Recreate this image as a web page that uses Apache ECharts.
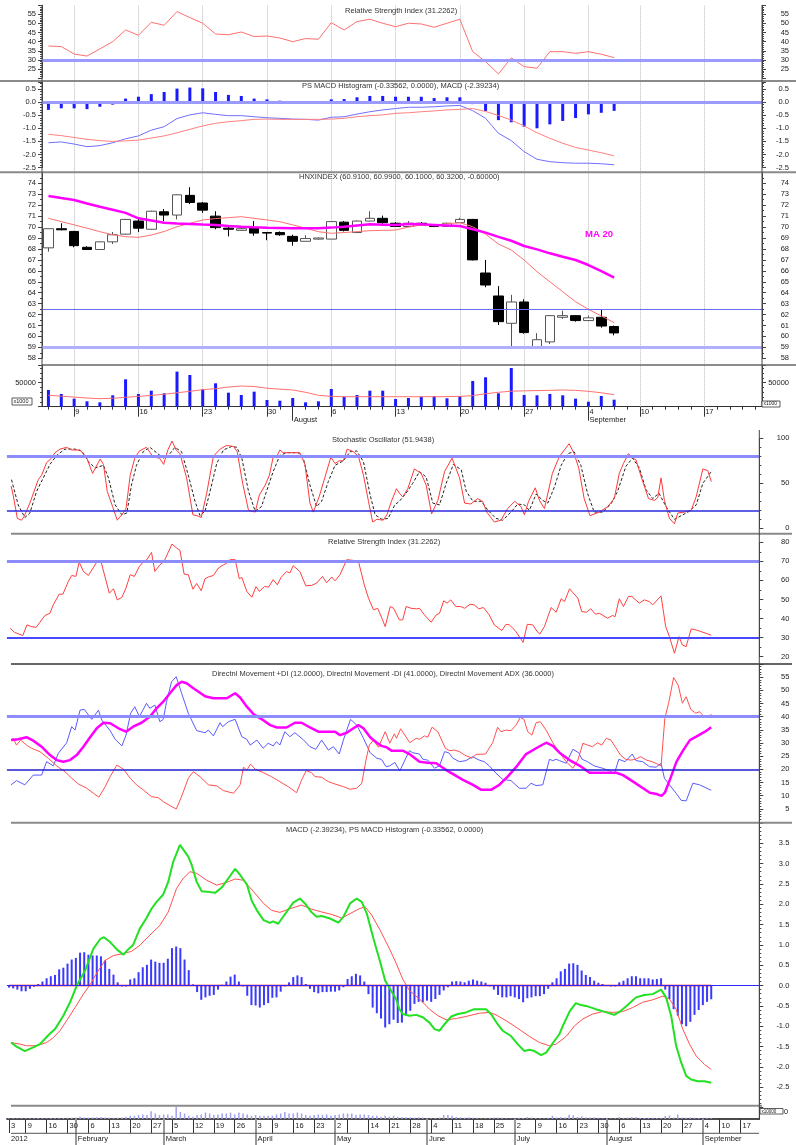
<!DOCTYPE html>
<html><head><meta charset="utf-8">
<script src="https://cdn.jsdelivr.net/npm/echarts@6.0.0/dist/echarts.min.js"></script>
<style>html,body{margin:0;padding:0;background:#fff}#c{width:796px;height:1145px}</style>
</head><body><div id="c"></div>
<script>
// ---------- categories ----------
const HOLIDAYS = ['2012-01-23','2012-01-24','2012-01-25','2012-01-26','2012-01-27','2012-04-02','2012-04-30','2012-05-01','2012-09-03'];
function tradingDays(start, end) {
  const out = []; const d = new Date(start + 'T00:00:00Z'); const e = new Date(end + 'T00:00:00Z');
  while (d <= e) {
    const dow = d.getUTCDay(); const s = d.toISOString().slice(0, 10);
    if (dow !== 0 && dow !== 6 && HOLIDAYS.indexOf(s) < 0) out.push(s);
    d.setUTCDate(d.getUTCDate() + 1);
  }
  return out;
}
const botDates = tradingDays('2012-01-03', '2012-09-21');
const topDates = tradingDays('2012-07-05', '2012-09-21');
const MONTHS = ['January','February','March','April','May','June','July','August','September','October','November','December'];
const HIDDEN_DAY_LABELS = ['2012-05-07'];

// ---------- top chart (daily, Jul 5 - Sep 6) ----------
const topOpen  = [68.1,69.85,69.6,68.15,67.95,68.65,69.35,70.55,69.8,71.4,71.1,72.9,72.2,71.0,69.9,69.7,69.95,69.5,69.5,69.15,68.7,68.9,68.9,70.45,69.5,70.55,70.8,70.35,70.05,70.35,70.2,70.05,70.4,70.7,65.8,63.7,61.2,63.15,59.0,59.5,61.75,61.9,61.45,61.75,60.91];
const topClose = [69.85,69.75,68.3,67.95,68.65,69.3,70.7,69.9,71.45,71.1,72.95,72.25,71.55,69.95,69.8,69.85,69.45,69.45,69.3,68.7,68.95,69.0,70.5,69.7,70.55,70.8,70.4,70.05,70.35,70.2,70.05,70.35,70.7,67.0,64.7,61.35,63.15,60.35,59.7,61.9,61.9,61.45,61.7,60.95,60.32];
const topHigh  = [69.85,70.35,69.65,68.25,68.7,69.55,70.75,70.9,71.5,71.65,73.0,73.65,72.3,71.45,70.05,69.95,70.55,69.55,69.6,69.3,69.25,69.05,70.5,70.55,70.6,71.45,71.05,70.45,70.55,70.45,70.25,70.4,70.85,70.75,67.0,64.6,63.8,63.4,60.3,61.95,62.35,61.95,61.9,62.5,60.99];
const topLow   = [67.75,69.7,68.15,67.9,67.9,68.45,69.3,69.55,69.75,70.55,70.7,72.1,71.3,69.8,69.15,69.65,69.2,68.8,69.2,68.3,68.7,68.85,68.9,69.6,69.45,70.5,70.3,70.0,70.0,70.15,70.0,70.0,70.4,66.95,64.5,61.05,58.9,60.25,58.9,59.3,61.6,61.35,61.4,60.8,60.10];
const topMA20  = [72.84,72.65,72.47,72.15,71.86,71.58,71.3,70.8,70.6,70.4,70.33,70.28,70.23,70.19,70.1,70.03,69.98,69.94,69.92,69.9,69.89,69.89,69.95,70.03,70.15,70.25,70.22,70.19,70.28,70.25,70.2,70.15,70.1,69.8,69.49,69.1,68.75,68.27,67.96,67.6,67.29,66.99,66.53,65.98,65.37];
const topMA10  = [70.8,70.5,70.2,69.9,69.58,69.3,69.12,69.06,69.27,69.6,70.03,70.34,70.65,70.78,70.86,70.95,70.8,70.65,70.49,70.2,69.89,69.58,69.43,69.5,69.58,69.67,69.7,69.73,70.0,70.19,70.19,70.3,70.4,70.03,69.36,68.45,67.9,66.99,65.92,65.0,64.09,63.17,62.48,61.87,61.26];
const topVol   = [34800,26500,16700,11200,9100,23700,57000,26500,33300,27900,73000,66000,36200,48700,29200,24400,31300,14000,12500,18100,9100,11200,36900,20800,24400,33300,33300,16000,18100,20800,22300,17500,22300,53500,61200,27900,80600,24400,23700,26500,23700,16700,10400,22300,14600];
const topVolMA = [23700,22000,20000,18000,16700,17500,19500,21500,23500,26000,29000,32000,35500,37500,41000,43000,42000,38500,36500,34800,30000,23700,21500,20800,20800,20800,20800,20800,20800,20800,20800,21000,21500,23000,27000,30000,32300,33000,33500,34000,34800,34000,32000,29000,25000];
const topRSI   = [37.6,37.3,33.2,32.1,36.0,40.0,46.4,43.5,50.6,49.0,56.5,53.2,50.1,44.2,43.8,45.3,42.8,43.1,42.0,40.0,41.7,41.3,50.4,46.4,51.0,52.3,50.1,48.2,50.1,49.7,47.9,50.1,52.3,34.5,29.0,22.3,31.1,26.3,25.4,34.5,34.5,33.6,34.5,33.1,31.23];
const topMACD  = [-1.55,-1.52,-1.6,-1.70,-1.66,-1.55,-1.40,-1.29,-1.07,-0.94,-0.63,-0.49,-0.41,-0.47,-0.52,-0.52,-0.56,-0.6,-0.62,-0.65,-0.66,-0.69,-0.58,-0.56,-0.46,-0.37,-0.30,-0.25,-0.2,-0.2,-0.18,-0.15,-0.13,-0.33,-0.62,-1.19,-1.47,-1.89,-2.18,-2.27,-2.31,-2.33,-2.33,-2.35,-2.39];
const topSignal= [-1.23,-1.28,-1.35,-1.42,-1.47,-1.5,-1.48,-1.45,-1.37,-1.29,-1.17,-1.04,-0.91,-0.81,-0.75,-0.71,-0.66,-0.65,-0.66,-0.66,-0.66,-0.66,-0.65,-0.62,-0.56,-0.52,-0.49,-0.43,-0.41,-0.37,-0.34,-0.30,-0.28,-0.25,-0.36,-0.51,-0.69,-0.91,-1.17,-1.38,-1.57,-1.73,-1.83,-1.93,-2.05];
const topHist  = [-0.30,-0.24,-0.24,-0.27,-0.18,-0.10,0.13,0.20,0.30,0.38,0.51,0.55,0.52,0.38,0.27,0.23,0.13,0.10,0.05,0.01,0.01,0.01,0.10,0.11,0.18,0.23,0.23,0.20,0.20,0.20,0.15,0.18,0.18,-0.08,-0.34,-0.69,-0.77,-0.94,-1.0,-0.85,-0.72,-0.61,-0.47,-0.41,-0.336];

// ---------- bottom chart (trading-day index from Jan 3) ----------
const stochK = [[0.5,47],[1,37],[2,11],[3,9],[3.6,13],[5,28],[7,54],[7.8,59],[9,73],[10.2,78],[11,84],[12.2,88],[13.8,90],[15,87],[17,87],[18.6,78],[20,61],[21.8,77],[22.6,71],[23.5,41],[24.8,24],[25.9,9],[27,15],[28,22],[29,59],[30.1,78],[31.2,86],[32.9,90],[34.5,79],[36,78],[37,71],[38,87],[39,97],[40,87],[40.9,83],[42.5,56],[44,15],[45,14],[46,12],[47.3,39],[48.9,80],[50.5,88],[52,92],[53.7,91],[54.6,85],[55.9,50],[57.3,20],[58.9,18],[59.9,37],[61.3,48],[62.3,59],[63.2,79],[64,79],[64.8,87],[65.6,84],[67.2,84],[69.6,84],[70.8,71],[72,28],[72.8,18],[74.2,35],[75.6,57],[77,79],[78,72],[79,75],[80,75],[80.9,88],[82.4,85],[83.6,80],[84.8,59],[86,30],[87,7],[88,10],[89.5,9],[90.4,15],[91.5,30],[92.7,44],[93.4,39],[94.2,35],[95.4,44],[97,66],[98.6,61],[99.8,48],[101.1,16],[102.6,31],[104.2,63],[106,78],[107.8,56],[109,28],[110.5,27],[112.1,33],[113.3,30],[114.3,18],[116.1,7],[117.7,9],[119.3,22],[121,30],[122.5,24],[123.3,15],[124.3,30],[125.9,45],[126.9,31],[128.1,22],[130,61],[131.7,80],[134,94],[135.2,83],[136.3,67],[137.6,33],[139,14],[141.2,18],[143.2,24],[144.8,33],[146,61],[147,72],[148.2,83],[149.2,78],[150,76],[151.4,55],[153,33],[154.4,31],[155.2,34],[156,56],[156.8,31],[158,11],[159.2,5],[160,17],[161.6,18],[163.2,20],[164.4,35],[166,66],[167.2,64],[168,51.94]];
const stochD = [[0.6,54],[2.2,26],[3.8,12],[5,17],[6.6,41],[8.2,56],[9.8,71],[11.4,81],[13.4,88],[15.8,88],[17.4,86],[19,74],[20.6,67],[22.6,70],[23.8,56],[25.4,26],[27,15],[28.2,17],[29.3,48],[30.5,70],[32.1,85],[33.7,90],[35.3,84],[36.9,78],[38,80],[39.7,90],[41.3,85],[42.9,59],[44.5,30],[45.7,14],[46.9,19],[48.1,41],[49.7,72],[51.3,87],[53.3,91],[54.5,90],[55.7,78],[57.3,41],[58.9,19],[60.4,24],[61.6,41],[63.2,63],[64.8,81],[66.4,84],[69.2,84],[70.4,78],[72,48],[73.6,24],[74.8,30],[76.4,52],[78,70],[80,75],[81.6,85],[83.2,86],[84.8,74],[86.4,37],[87.6,15],[89.2,10],[90.7,11],[92.3,26],[93.4,30],[95,39],[96.6,50],[98.2,63],[99.8,57],[101.4,28],[103,26],[104.6,50],[106.3,71],[108.2,65],[109.4,41],[111,30],[113,30],[114.6,20],[116.5,11],[118.1,9],[120.1,18],[121.7,27],[123.3,26],[124.5,20],[126.1,38],[127.7,31],[128.9,28],[130.5,46],[132.1,70],[133.7,83],[135.2,85],[136.8,70],[138.4,39],[140,18],[142,18],[144,27],[145.6,41],[147.6,69],[149.2,78],[150.8,67],[152.4,43],[154,33],[155.5,39],[157.2,24],[159.2,10],[161.2,15],[162.8,19],[164.4,26],[166,50],[168,63]];
const rsi = [[0.3,34.9],[1.3,32.8],[3.3,31.1],[4.3,36.7],[5.3,35.8],[6.5,35.4],[8.6,41.6],[9.8,42.8],[10.6,47.2],[12,52.8],[12.9,52.8],[14.2,59.5],[15,62.6],[16,62.1],[16.8,69.6],[17.8,64.7],[19,62.6],[21.1,70],[22,70],[24,53.3],[25,55.6],[25.9,49.8],[27,51.1],[28,56],[29,63],[30,62.1],[31.2,67.4],[32.3,70],[33,70.9],[34.1,74.7],[34.9,64.7],[36.1,68.2],[37.1,70],[39,79.1],[40.1,77],[40.9,75.8],[41.9,63.3],[42.9,63],[44,55.4],[44.9,58.4],[46,54.6],[46.9,60.9],[47.7,61.8],[48.9,62.6],[50.1,66.5],[51.3,68.2],[52.1,69.1],[52.9,70.9],[54.1,70.9],[55.1,60.9],[55.7,61.6],[56.9,54.2],[58.1,51.2],[59.1,56.8],[59.9,54.2],[61.1,56.8],[62.1,56.5],[63.2,60.4],[64.2,57.7],[65.1,61.6],[66.4,64.7],[67.2,63.9],[68,67.7],[69.6,64.7],[71,57.2],[72.4,57.4],[73.6,58.6],[75,62.1],[76,58.8],[77.2,61.8],[78,59.8],[79.2,63],[80.8,70.9],[82.8,70.4],[83.6,70],[85,57.7],[86,50.7],[87.2,44.6],[88.2,45.4],[89.2,40.2],[90,35.8],[91.2,46.3],[92,45.4],[93.4,39.3],[94.2,39.3],[95,46.3],[96.2,45.4],[97.5,45.1],[98.2,45.4],[99.4,41.9],[101,38.1],[102.2,41.9],[103,42.8],[104,49.3],[104.8,48.1],[105.7,49.8],[106.9,46.3],[108.1,46.3],[109,45.4],[110.3,47.5],[111.3,47.2],[112.4,45.1],[113.5,45.8],[114.9,41.9],[116.1,36.7],[117.9,33.7],[118.9,37],[119.7,36.7],[121.1,33.7],[123,27.5],[124,37],[125.3,36.7],[126.5,32.8],[127,31.9],[128.1,35.8],[129.7,45.8],[130.9,43.3],[132.1,50.4],[132.9,48.9],[134.1,55.6],[136.1,50.7],[137,43.7],[138.1,43.3],[139.2,45.1],[140.3,42.3],[141.2,42.8],[143.2,40.2],[144.4,41.6],[145,41],[146,50.4],[147,46.3],[148.2,51.6],[149,51.6],[150.8,48.1],[152,49.8],[153.2,48.9],[154,47.2],[156,51.9],[157.1,35.8],[158,30.5],[159.2,21.8],[160.3,30.5],[161.1,26.1],[162,25.3],[163.2,34.6],[164.4,34],[165.5,33.2],[166.7,32.3],[168,31.23]];
const plusDI = [[0.5,14.1],[1.8,15.7],[3.8,14.1],[5.8,17.8],[7.8,17.8],[9,22.9],[10.6,21.3],[11.8,26.1],[13.8,30.1],[15,36.2],[15.8,34.9],[17,42.5],[18,42.8],[19.8,39],[21.4,42.5],[22.2,38.7],[24.2,34.7],[25.4,31.4],[27,28.9],[28,33],[29.1,41.3],[30.1,43.8],[31.2,40],[32.9,45.1],[33.7,43.2],[34.9,44.4],[36.1,38.1],[36.9,39],[37.7,45.7],[38.9,53.3],[40,55.2],[41.3,48.9],[42.9,41.3],[44.9,34.7],[46.9,33.9],[47.7,34.9],[48.9,32.7],[50.5,37.7],[51.1,36.2],[52.5,38.1],[54.1,39],[55.7,32.4],[56.9,31.4],[57.7,29.2],[59.3,31.1],[60.8,28],[62,29.9],[63.2,28.9],[64,30.5],[64.8,29.2],[66,34.3],[67.2,32.4],[68.4,33.9],[70.3,31.4],[72,28.6],[73.4,27.6],[74.8,31.1],[76.4,27.3],[77.6,28.6],[79,25.8],[80,31.1],[81.7,39],[83.2,36.8],[84.8,31.8],[86.4,26.3],[88,24.2],[89.1,23.8],[90.2,21],[91.1,21.3],[92.3,22.6],[93.5,19.4],[95.8,27.1],[96.6,26.3],[98.2,25.8],[99,23.8],[100.2,23.5],[101.8,20.4],[103,21.3],[104.2,26.7],[105.2,26.3],[106.2,24.2],[107.8,22.9],[109.3,23.3],[110.9,24.8],[112.5,23.5],[113.7,22.9],[114.9,21.3],[116.5,18.5],[118.1,16.2],[120.1,15.7],[122.1,12.8],[123.7,12.8],[124.9,14.7],[126.1,13.8],[127.7,14.1],[129.3,23.8],[130.1,23.3],[130.9,23.8],[131.7,23.3],[133.3,22.3],[134.9,27.6],[136.3,26.3],[137.1,23.8],[138.4,22.9],[140,21.3],[142,20.4],[143.6,19.5],[144.8,18.2],[145.9,23.8],[147.4,22.9],[149.1,25.8],[150,23.3],[151.6,22.9],[153.2,21],[154.8,20.8],[156,22.3],[156.8,16.6],[158,14.1],[159.6,10.9],[160.8,8.2],[162,8],[163.6,14.7],[165.2,14.1],[168,12]];
const minusDI = [[0.5,31.1],[1,31.8],[1.8,29.2],[2.8,31.1],[4.2,29.2],[5.4,28],[7.4,26.7],[9.4,24.2],[11.4,21.3],[13.4,19.1],[15,16.6],[16.6,14.4],[18.6,12.8],[20.2,10.9],[21.5,9.4],[23,13.4],[24.2,17.2],[25.8,21.6],[27.4,20],[29,16.6],[30.5,14.1],[32.1,12.2],[34.1,9.6],[35.7,9.2],[36.9,7.7],[38.5,6.2],[40,4.9],[41.2,9.3],[42.9,16.6],[44.1,19.1],[45.7,17.2],[47.7,14.1],[49.7,13.7],[51.3,11.9],[53.7,10.9],[55.3,14.1],[56.1,20.8],[56.9,19.7],[57.8,22],[58.9,20],[60.9,18.7],[62.8,17.2],[64.8,15.3],[66.8,13.4],[68.8,11.1],[70,15.9],[71.1,19.5],[72.4,18.7],[73.2,17.2],[74.8,17],[76.4,15.3],[78,14.4],[80,13.4],[81.6,12.4],[83.2,12.8],[84.4,14.7],[85.4,23.5],[86.2,29.2],[87.2,31.1],[88.4,28.4],[90,34.3],[91.1,29.9],[92.2,33.5],[92.7,31.8],[93.7,35.4],[95.9,30.1],[97.4,31.8],[98.2,31.4],[99.4,32.7],[100.2,32.2],[101.2,36],[102.6,34.3],[104.4,28],[105.4,27.1],[106.6,27.3],[107.8,26.7],[109,25.4],[110.8,24.2],[111.7,25.7],[112.9,25.7],[114,25.8],[115.7,30.1],[116.9,36],[117.7,34.3],[118.9,34.9],[120.1,34.7],[121.3,36.8],[122.3,39.7],[123.2,39],[124.1,34.3],[125.1,33],[126.1,37.7],[127.1,38.1],[128.5,34.9],[130.1,30.1],[131.7,26.3],[133.3,22.9],[134.9,20.4],[136.1,23.5],[137.3,29.9],[138.4,29.2],[139.6,28.6],[140.8,30.1],[141.8,29.2],[142.9,31.8],[144,31.1],[145.1,28.4],[146.3,25.4],[147.5,23.8],[148.7,23.5],[149.9,23.8],[151.1,24.8],[152.5,23.5],[153.9,22.9],[155.1,22],[156,21.3],[156.9,39.4],[157.8,45.1],[159,54.9],[160.1,52],[161.1,45.1],[162,47.6],[163.1,42.8],[164.3,41.3],[165.2,41.9],[166.3,40],[167.4,39.7],[168,41]];
const adx = [[0.5,31.1],[2.2,31.4],[4.2,32.2],[5.8,30.9],[7.8,28.6],[9.8,25.4],[11.4,23.5],[13,22.9],[14.6,23.5],[16.2,25.4],[17.8,28.6],[19.4,32.2],[21,35.6],[22.6,37.7],[24.2,37.5],[26.2,35.6],[28,34.3],[29.7,36.2],[31.7,37.7],[33.7,40],[35.3,43.2],[36.9,45.7],[38.5,48.9],[40.1,52],[41.3,53.3],[42.5,52.7],[44.1,50.8],[45.7,49.1],[46.9,47.8],[48.9,47],[52.1,47],[54.1,48.9],[55.3,47.3],[56.9,43.8],[58.5,41],[60.5,39],[62.5,36.8],[64.1,35.9],[66.4,35.9],[68.4,37.7],[70,37.7],[72,35.9],[74,34.3],[78,34.3],[79.2,33],[80.8,33.9],[82.4,35.6],[83.6,36.8],[84.8,35.6],[86.4,32.2],[88,30.1],[89.1,28.9],[90.3,28.4],[91.5,27.1],[94.2,27.1],[95.8,25.8],[98.2,22.9],[100.2,22.5],[102.2,22.3],[104.6,19.7],[108.6,16],[111,14.1],[113,12.2],[115.3,12.2],[117.3,14.1],[119.3,17.2],[121.3,20.8],[123.7,25.8],[126.1,28],[128.5,30.1],[130.1,28.9],[131.7,26.3],[134.1,23.5],[136.9,21],[138.9,18.7],[145.3,18.7],[146.9,17.8],[149.3,15.3],[151.7,12.8],[153.3,11.1],[154.9,10.6],[156.1,9.9],[156.9,11.1],[158.1,16],[159.7,22.9],[161.3,27.3],[162.9,31.1],[164.4,32.4],[166.5,34.3],[168,36]];
const macdLine = [[0.5,-1.40],[1.8,-1.50],[3.8,-1.61],[5.8,-1.52],[7.4,-1.44],[9.4,-1.22],[11,-1.07],[13,-0.74],[14.6,-0.41],[16.2,0],[18.2,0.37],[20.2,0.91],[21.8,1.14],[22.7,1.19],[24.2,1.07],[25.8,0.89],[27.4,0.76],[28.5,0.89],[29.7,1.0],[31.3,1.4],[32.9,1.66],[34.1,1.89],[35.3,2.06],[36.9,2.24],[38.1,2.55],[39.3,3.05],[40.9,3.46],[42.9,3.17],[43.7,2.97],[44.9,2.55],[46.1,2.32],[47.3,2.31],[49.3,2.28],[50.9,2.41],[52.5,2.64],[54.1,2.87],[55.3,2.72],[56.9,2.49],[58.1,2.08],[59.3,1.85],[60.9,1.61],[62.4,1.54],[63.2,1.58],[64.4,1.52],[66.4,1.81],[68,2.04],[69.6,2.14],[70.8,2.02],[72.4,1.80],[73.6,1.69],[74.8,1.71],[76.8,1.65],[78.8,1.55],[80,1.69],[81.6,2.02],[83.2,2.14],[84.4,2.06],[85.6,1.77],[87.2,1.15],[88.8,0.58],[90,0.12],[91.6,-0.16],[92.6,-0.33],[93.4,-0.58],[94.2,-0.70],[95.8,-0.74],[97.4,-0.72],[99,-0.78],[100.6,-0.91],[101.8,-1.07],[103,-1.11],[104.2,-0.95],[105.8,-0.76],[107.4,-0.70],[109.3,-0.66],[111.3,-0.58],[114.1,-0.58],[115.3,-0.70],[116.9,-0.95],[118.1,-1.11],[120.1,-1.24],[121.7,-1.44],[123.3,-1.61],[124.5,-1.58],[125.7,-1.61],[127.3,-1.71],[128.5,-1.65],[129.4,-1.52],[130.2,-1.40],[131.7,-1.19],[132.5,-0.99],[134.1,-0.64],[135.6,-0.43],[136.8,-0.48],[138.4,-0.51],[140.4,-0.58],[142.4,-0.64],[144.8,-0.72],[146.4,-0.62],[148,-0.48],[150,-0.29],[152,-0.23],[154,-0.21],[156,-0.10],[157.2,-0.29],[158.4,-0.74],[159.6,-1.48],[160.8,-1.89],[162,-2.22],[163.2,-2.31],[164.8,-2.35],[166.4,-2.35],[168,-2.39]];
const macdSignal = [[0.5,-1.40],[2.6,-1.44],[4.2,-1.48],[6.6,-1.48],[9,-1.40],[10.6,-1.28],[12.2,-1.11],[13.8,-0.86],[15.8,-0.54],[17.8,-0.21],[19.4,0.02],[21,0.31],[23,0.62],[25,0.74],[27,0.78],[29.3,0.84],[31.3,0.99],[33.7,1.24],[36.1,1.48],[38.1,1.81],[40.1,2.39],[41.7,2.64],[43.3,2.80],[44.9,2.76],[47.3,2.59],[49.7,2.47],[52.1,2.54],[54.1,2.62],[56.1,2.59],[58.5,2.31],[60.9,2.02],[62.8,1.85],[64.8,1.80],[67.2,1.89],[70,1.98],[72.4,1.88],[74.8,1.81],[77.2,1.75],[79.6,1.66],[81.6,1.77],[83.6,1.88],[85.2,1.94],[86.8,1.73],[88.8,1.36],[90.8,0.95],[92.5,0.58],[94.2,0.16],[95.8,-0.12],[98.2,-0.33],[100.6,-0.58],[102.6,-0.74],[104.6,-0.84],[107,-0.81],[109.3,-0.76],[112.5,-0.68],[114.9,-0.66],[116.5,-0.72],[118.9,-0.86],[121.7,-1.05],[124.5,-1.25],[126.9,-1.40],[129.3,-1.48],[130.9,-1.44],[133.3,-1.25],[135.3,-0.99],[137.3,-0.82],[139.6,-0.70],[142,-0.64],[144.4,-0.66],[146.8,-0.64],[149.2,-0.54],[151.6,-0.41],[154,-0.35],[156.4,-0.26],[158,-0.33],[159.6,-0.58],[161.2,-1.07],[162.8,-1.44],[164.4,-1.73],[166.4,-1.94],[168,-2.06]];
const macdHist = [-0.05,-0.07,-0.10,-0.14,-0.14,-0.08,-0.03,0.04,0.10,0.18,
 0.23,0.26,0.40,0.44,0.54,0.64,0.68,0.81,0.82,0.76,
 0.74,0.74,0.72,0.62,0.41,0.27,0.08,-0.02,-0.02,0.15,
 0.18,0.33,0.45,0.51,0.64,0.59,0.56,0.56,0.66,0.92,
 0.96,0.92,0.64,0.38,0.03,-0.16,-0.35,-0.29,-0.25,-0.23,
 -0.10,0.02,0.10,0.22,0.27,0.10,-0.02,-0.25,-0.48,-0.49,
 -0.54,-0.48,-0.43,-0.30,-0.29,-0.15,-0.02,0.08,0.21,0.25,
 0.21,0.04,-0.08,-0.16,-0.19,-0.16,-0.16,-0.15,-0.15,-0.12,
 -0.04,0.16,0.23,0.29,0.25,0.10,-0.21,-0.54,-0.68,-0.81,
 -1.03,-0.95,-0.84,-0.92,-0.91,-0.74,-0.62,-0.45,-0.40,-0.41,
 -0.37,-0.40,-0.33,-0.23,-0.12,-0.04,0.10,0.11,0.10,0.08,
 0.12,0.15,0.12,0.10,0.07,-0.02,-0.10,-0.23,-0.29,-0.29,
 -0.26,-0.29,-0.33,-0.41,-0.31,-0.29,-0.26,-0.26,-0.21,-0.08,
 0.08,0.18,0.35,0.41,0.54,0.55,0.51,0.37,0.26,0.21,
 0.12,0.07,0.04,0.01,-0.02,-0.02,0.08,0.12,0.18,0.23,
 0.23,0.18,0.18,0.18,0.15,0.16,0.18,-0.10,-0.33,-0.58,
 -0.74,-0.95,-1.00,-0.89,-0.72,-0.60,-0.48,-0.40,-0.336];
const histZero = 0;
const volEarly = [15000,14000,12000,13000,15000,14000,13000,16000,15000,14000,
 18000,17000,20000,19000,23000,23000,25000,40000,25000,23000,
 30000,30000,35000,28000,23000,23000,23000,28000,40000,57000,
 57000,69000,80000,69000,137000,97000,69000,80000,80000,57000,
 211000,126000,97000,57000,40000,69000,80000,114000,97000,69000,
 80000,97000,97000,114000,80000,114000,97000,80000,57000,69000,
 57000,57000,57000,57000,80000,97000,126000,97000,97000,114000,
 97000,69000,57000,69000,80000,69000,80000,57000,69000,80000,
 97000,97000,97000,69000,80000,80000,69000,57000,57000,40000,
 57000,40000,57000,35000,35000,30000,30000,25000,30000,25000,
 15000,15000,20000,25000,69000,69000,57000,35000,30000,23000,
 30000,23000,23000,12000,12000,20000,28000,25000,23000,12000,
 10000,14000,20000,17000];
const botVol = volEarly.concat(topVol);

// ---------- helpers ----------
function weekKey(s){ const d = new Date(s + 'T00:00:00Z'); const dow = (d.getUTCDay() + 6) % 7; d.setUTCDate(d.getUTCDate() - dow); return d.toISOString().slice(0,10); }
function isWeekStart(dates, i){ return i === 0 || weekKey(dates[i]) !== weekKey(dates[i-1]); }
function isMonthStart(dates, i){ return i === 0 || dates[i].slice(5,7) !== dates[i-1].slice(5,7); }
const FONT = 'Liberation Sans, Arial, sans-serif';
const AX = '#444';
const FS = 7.5;

const grids = [
  {left:42, width:720, top:5.2, height:72.9},     // 0 rsi top
  {left:42, width:720, top:82.3, height:85.4},    // 1 macd top
  {left:42, width:720, top:172.4, height:185.9},  // 2 candles
  {left:42, width:720, top:364.9, height:41.8},   // 3 vol top
  {left:42, width:720, top:5, height:401.7},      // 4 bg (dotted verticals)
  {left:6.9, width:752.4, top:438.3, height:90},  // 5 stoch
  {left:6.9, width:752.4, top:542.3, height:114.4}, // 6 rsi
  {left:6.9, width:752.4, top:664.1, height:157.8}, // 7 dmi
  {left:6.9, width:752.4, top:822.9, height:284.7}, // 8 macd
  {left:6.9, width:752.4, top:1106, height:13}      // 9 vol bottom
];

function yAx(grid, pos, min, max, interval, minorSplit, fmt, margin) {
  return {type:'value', gridIndex:grid, position:pos, min:min, max:max, interval:interval,
    splitLine:{show:false},
    axisLine:{show:true, onZero:false, lineStyle:{color:AX, width:1}},
    axisTick:{show:true, length:4, lineStyle:{color:AX}},
    minorTick:{show:minorSplit > 0, splitNumber:minorSplit || 5, length:2, lineStyle:{color:AX}},
    axisLabel:{fontSize:FS, color:'#222', fontFamily:FONT, formatter:fmt, margin:margin,
      align: pos === 'right' ? 'right' : undefined}};
}
const fTopRSI = v => (v >= 25 && v <= 55) ? String(v) : '';
const fTopMACD = v => (v >= -2.5 && v <= 0.5) ? v.toFixed(1) : '';
const fCandle = v => (v >= 58 && v <= 74) ? String(v) : '';
const fVol = v => v === 50000 ? '50000' : '';
const fPlain = v => String(v);
const fDMI = v => (v >= 5 && v <= 55) ? String(v) : '';
const fMACD = v => (v >= -2.5 && v <= 3.5) ? v.toFixed(1) : '';

const yAxes = [
  yAx(0,'left',20,60,5,5,fTopRSI,6), yAx(0,'right',20,60,5,5,fTopRSI,27),
  yAx(1,'left',-2.5,0.75,0.5,5,fTopMACD,6), yAx(1,'right',-2.5,0.75,0.5,5,fTopMACD,27),
  yAx(2,'left',58,75,1,2,fCandle,6), yAx(2,'right',58,75,1,2,fCandle,27),
  yAx(3,'left',0,87000,50000,5,fVol,6), yAx(3,'right',0,87000,50000,5,fVol,27),
  {type:'value', gridIndex:4, show:false, min:0, max:1},
  yAx(5,'right',0,100,50,5,fPlain,30),
  yAx(6,'right',20,80,10,2,fPlain,30),
  yAx(7,'right',0,60,5,5,fDMI,30),
  yAx(8,'right',-3,4,0.5,5,fMACD,30),
  Object.assign(yAx(9,'right',0,230000,230000,0,()=> '',30), {axisTick:{show:false}})
];

const hiddenCat = (g, data) => ({type:'category', gridIndex:g, data:data, show:false});
const hiddenVal = g => ({type:'value', gridIndex:g, min:-0.5, max:179.5, show:false});
const dayNum = v => String(+v.slice(8,10));

const xAxes = [
  hiddenCat(0, topDates), hiddenCat(1, topDates), hiddenCat(2, topDates),
  // 3: top series axis, daily minor ticks
  {type:'category', gridIndex:3, data:topDates, position:'bottom',
   axisLine:{show:true, lineStyle:{color:'#333', width:1}},
   axisTick:{show:true, interval:0, length:3, alignWithLabel:true, lineStyle:{color:'#333'}},
   axisLabel:{show:false}},
  // 4: week ticks + day labels
  {type:'category', gridIndex:3, data:topDates, position:'bottom', axisLine:{show:false},
   axisTick:{show:true, length:10, alignWithLabel:true, interval:(i)=> i > 0 && isWeekStart(topDates,i), lineStyle:{color:'#333'}},
   axisLabel:{show:true, interval:(i)=> i > 0 && isWeekStart(topDates,i), formatter:dayNum, align:'left', padding:[0,0,0,1], margin:1, fontSize:FS, color:'#222', fontFamily:FONT}},
  // 5: month ticks + month labels
  {type:'category', gridIndex:3, data:topDates, position:'bottom', axisLine:{show:false},
   axisTick:{show:true, length:14, alignWithLabel:true, interval:(i)=> i > 0 && isMonthStart(topDates,i), lineStyle:{color:'#333'}},
   axisLabel:{show:true, interval:(i)=> i > 0 && isMonthStart(topDates,i), formatter:(v)=> MONTHS[+v.slice(5,7)-1], align:'left', padding:[0,0,0,1], margin:9, fontSize:FS, color:'#222', fontFamily:FONT}},
  // 6: dotted vertical grid lines through the whole top chart
  {type:'category', gridIndex:4, data:topDates, position:'bottom', axisLine:{show:false}, axisLabel:{show:false},
   axisTick:{show:true, inside:true, length:401.7, alignWithLabel:true, interval:(i)=> i > 0 && isWeekStart(topDates,i), lineStyle:{color:'#b8b8b8', type:'dotted', width:1}}},
  hiddenVal(5), hiddenVal(6), hiddenVal(7), hiddenVal(8),
  // 11: bottom volume axis
  {type:'category', gridIndex:9, data:botDates, position:'bottom',
   axisLine:{show:true, lineStyle:{color:'#111', width:1.5}}, axisTick:{show:false}, axisLabel:{show:false}},
  // 12: week ticks + day labels
  {type:'category', gridIndex:9, data:botDates, position:'bottom', axisLine:{show:false},
   axisTick:{show:true, length:14, alignWithLabel:true, interval:(i)=> isWeekStart(botDates,i), lineStyle:{color:'#333'}},
   axisLabel:{show:true, interval:(i)=> isWeekStart(botDates,i), formatter:(v)=> HIDDEN_DAY_LABELS.indexOf(v) >= 0 ? '' : dayNum(v), align:'left', padding:[0,0,0,2], margin:3, fontSize:FS, color:'#222', fontFamily:FONT}},
  // 13: month lines + labels
  {type:'category', gridIndex:9, data:botDates, position:'bottom', axisLine:{show:false},
   axisTick:{show:true, length:26, alignWithLabel:true, interval:(i)=> i > 0 && isMonthStart(botDates,i), lineStyle:{color:'#999', width:2}},
   axisLabel:{show:true, interval:(i)=> isMonthStart(botDates,i), formatter:(v, i)=> i === 0 ? '2012' : MONTHS[+v.slice(5,7)-1], align:'left', padding:[0,0,0,2], margin:16, fontSize:FS, color:'#222', fontFamily:FONT}}
];

function hLine(y, color, width) {
  return {silent:true, symbol:['none','none'], label:{show:false}, animation:false,
    data:[{yAxis:y, lineStyle:{color:color, width:width, type:'solid'}}]};
}
function multiMark(list) {
  return {silent:true, symbol:['none','none'], label:{show:false}, animation:false,
    data:list.map(m => ({yAxis:m[0], lineStyle:{color:m[1], width:m[2], type:'solid'}}))};
}
function ln(xi, yi, data, color, width, extra) {
  return Object.assign({type:'line', xAxisIndex:xi, yAxisIndex:yi, data:data, symbol:'none', showSymbol:false,
    lineStyle:{color:color, width:width}, itemStyle:{color:color}, animation:false, z:3}, extra || {});
}

const candleData = topOpen.map((o, i) => [o, topClose[i], topLow[i], topHigh[i]]);

const series = [
  // top RSI
  ln(0, 0, topRSI, '#ff7070', 1, {markLine: hLine(30, '#9a9aff', 3)}),
  // top MACD
  {type:'bar', xAxisIndex:1, yAxisIndex:2, data:topHist, barWidth:3, itemStyle:{color:'#1a1aff'}, animation:false, z:2,
   markLine: hLine(0, '#9a9aff', 3)},
  ln(1, 2, topMACD, '#7070ff', 1),
  ln(1, 2, topSignal, '#ff8080', 1),
  // candles
  {type:'candlestick', xAxisIndex:2, yAxisIndex:4, data:candleData, barWidth:10, animation:false, z:2,
   itemStyle:{color:'#ffffff', color0:'#000000', borderColor:'#555555', borderColor0:'#000000', borderWidth:1},
   markLine: multiMark([[62.5,'#6a6aff',1],[59,'#b0b0ff',3]])},
  ln(2, 4, topMA10, '#ff7070', 1),
  ln(2, 4, topMA20, '#ff00ff', 2.5),
  // top volume
  {type:'bar', xAxisIndex:3, yAxisIndex:6, data:topVol, barWidth:3, itemStyle:{color:'#1a1aff'}, animation:false, z:2},
  ln(3, 6, topVolMA, '#ff7070', 1),
  // stochastic
  ln(7, 9, stochD, '#222222', 1, {lineStyle:{color:'#222', width:1, type:[3,2]}}),
  ln(7, 9, stochK, '#ff3a3a', 1, {markLine: multiMark([[80,'#8c8cff',3],[20,'#2a2ae0',1.5]])}),
  // RSI
  ln(8, 10, rsi, '#ff4040', 1, {markLine: multiMark([[70,'#8c8cff',3],[30,'#4848ff',2]])}),
  // DMI
  ln(9, 11, plusDI, '#5a5aff', 1, {markLine: multiMark([[40,'#8c8cff',3],[20,'#2020d0',1.5]])}),
  ln(9, 11, minusDI, '#ff5050', 1),
  ln(9, 11, adx, '#ff00ff', 2.5),
  // MACD
  {type:'bar', xAxisIndex:10, yAxisIndex:12, data:macdHist.map((v, i) => [i, v]), barWidth:2,
   itemStyle:{color:'#3a3aff'}, animation:false, z:2, markLine: hLine(0, '#2a2aff', 1)},
  ln(10, 12, macdHist.map((v, i) => [i, histZero]), '#ff0000', 1.5),
  ln(10, 12, macdSignal, '#ff5050', 1),
  ln(10, 12, macdLine, '#22e022', 2),
  // bottom volume
  {type:'bar', xAxisIndex:11, yAxisIndex:13, data:botVol, barWidth:1.5, itemStyle:{color:'#a0a0f0'}, animation:false, z:2}
];

function T(text, left, top, extra) {
  return {text:text, left:left, top:top, padding:0,
    textStyle:Object.assign({fontSize:FS, fontWeight:'normal', color:'#333', fontFamily:FONT}, extra || {})};
}
const titles = [
  T('Relative Strength Index (31.2262)', 345, 7),
  T('PS MACD Histogram (-0.33562, 0.0000), MACD (-2.39234)', 302, 82),
  T('HNXINDEX (60.9100, 60.9900, 60.1000, 60.3200, -0.60000)', 299, 173),
  T('MA 20', 585, 229, {fontSize:9.5, fontWeight:'bold', color:'#ff00ff'}),
  T('Stochastic Oscillator (51.9438)', 332, 436),
  T('Relative Strength Index (31.2262)', 328, 538),
  T('Directnl Movement +DI (12.0000), Directnl Movement -DI (41.0000), Directnl Movement ADX (36.0000)', 212, 670),
  T('MACD (-2.39234), PS MACD Histogram (-0.33562, 0.0000)', 286, 826)
];

function hl(x1, x2, y, color, w) { return {type:'line', silent:true, z:50, shape:{x1:x1, y1:y, x2:x2, y2:y}, style:{stroke:color, lineWidth:w}}; }
function vl(x, y1, y2, color, w) { return {type:'line', silent:true, z:50, shape:{x1:x, y1:y1, x2:x, y2:y2}, style:{stroke:color, lineWidth:w}}; }
function box(x, y, w, h, text, fs) {
  return [{type:'rect', silent:true, z:50, shape:{x:x, y:y, width:w, height:h}, style:{fill:'#fff', stroke:'#333', lineWidth:0.8}},
          {type:'text', silent:true, z:51, x:x + 1.5, y:y + 0.5, style:{text:text, fontSize:fs, fill:'#222', fontFamily:FONT}}];
}
const graphic = [
  hl(0, 796, 81, '#8a8a8a', 2), hl(0, 796, 172.3, '#8a8a8a', 2), hl(42, 796, 365, '#666', 1.5),
  vl(42, 5, 407, AX, 1), vl(762, 5, 407, AX, 1),
  hl(11, 792, 533.7, '#8a8a8a', 2), hl(11, 792, 664, '#333', 1.5), hl(11, 792, 822.7, '#8a8a8a', 2),
  hl(11, 762, 1105.7, '#8a8a8a', 2), hl(11, 759, 1133.3, '#555', 1),
  vl(759.3, 430, 1119, AX, 1)
].concat(box(12, 398, 20, 7, 'x1000', 5.5), box(762, 401, 18, 6, 'x1000', 5),
         box(760, 1108.5, 23, 5.5, 'x10000', 4.5),
         [{type:'text', silent:true, z:51, x:784, y:1107.5, style:{text:'0', fontSize:FS, fill:'#222', fontFamily:FONT}}]);

const chart = echarts.init(document.getElementById('c'), null, {renderer:'canvas'});
chart.setOption({
  animation:false, backgroundColor:'#ffffff',
  textStyle:{fontFamily:FONT},
  title:titles, grid:grids, xAxis:xAxes, yAxis:yAxes, series:series, graphic:graphic
});
</script></body></html>
